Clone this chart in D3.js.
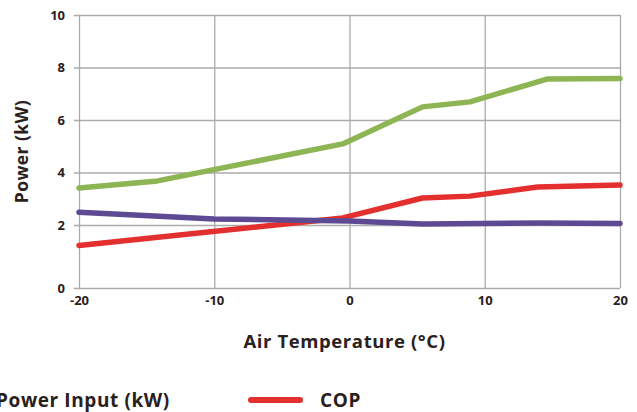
<!DOCTYPE html>
<html lang="en">
<head>
  <meta charset="UTF-8">
  <title>Power / COP vs Air Temperature</title>
  <script src="https://cdn.jsdelivr.net/npm/d3@7"></script>
  <style>
    body { margin: 0; background: #fff; }
    text { font-family: "Open Sans", Lato, sans-serif; font-weight: 700; fill: #2a201c; }
  </style>
</head>
<body>
<script>
  // data
  const xTicks = [-20, -10, 0, 10, 20];
  const yTicks = [0, 2, 4, 6, 8, 10];

  const heatTemps = [-20, -14.2, -0.5, 5.4, 8.9, 14.6, 20];
  const heatOutput = [3.41, 3.68, 5.09, 6.50, 6.69, 7.56, 7.58];

  const copTemps = [-20, -0.5, 5.4, 8.9, 13.9, 20];
  const cop = [1.22, 2.27, 3.03, 3.10, 3.45, 3.52];

  const powerTemps = [-20, -10, 0, 5.4, 14, 20];
  const powerInput = [2.49, 2.23, 2.15, 2.04, 2.08, 2.06];

  const legendLabels = ["Power Input (kW)", "COP"];

  const W = 637, H = 412;
  const plot = { left: 79, right: 620, top: 15, bottom: 288 };
  const yMin = -0.4; // the 0 line sits a little under the regular spacing

  const svg = d3.select("body").append("svg")
    .attr("width", W).attr("height", H);

  const x = d3.scaleLinear().domain([-20, 20]).range([plot.left, plot.right]);
  const y = d3.scaleLinear().domain([yMin, 10]).range([plot.bottom, plot.top]);

  // vertical grid + x labels
  const gx = svg.append("g")
    .attr("transform", "translate(0," + plot.bottom + ")")
    .call(d3.axisBottom(x).tickValues(xTicks)
      .tickSize(-(plot.bottom - plot.top)).tickSizeOuter(0).tickPadding(8)
      .tickFormat(d => d));
  gx.select(".domain").remove();
  gx.selectAll("line").attr("stroke", "#ababab").attr("stroke-width", 1.3);
  gx.selectAll("text").style("font-size", "13px");

  // horizontal grid + y labels
  const gy = svg.append("g")
    .attr("transform", "translate(" + (plot.left - 5) + ",0)")
    .call(d3.axisLeft(y).tickValues(yTicks.map(t => t === 0 ? yMin : t))
      .tickSize(-(plot.right - plot.left + 5)).tickSizeOuter(0).tickPadding(9)
      .tickFormat(d => d === yMin ? "0" : d));
  gy.select(".domain").remove();
  gy.selectAll("line").attr("stroke", "#ababab").attr("stroke-width", 1.3);
  gy.selectAll("text").style("font-size", "13px");

  // series
  const line = d3.line().x(d => x(d[0])).y(d => y(d[1]));
  const series = [
    { t: heatTemps, v: heatOutput, color: "#8db553" },
    { t: copTemps, v: cop, color: "#e3302f" },
    { t: powerTemps, v: powerInput, color: "#5e4a93" }
  ];
  svg.append("g").selectAll("path")
    .data(series)
    .enter().append("path")
    .attr("d", s => line(s.t.map((t, i) => [t, s.v[i]])))
    .attr("fill", "none")
    .attr("stroke", s => s.color)
    .attr("stroke-width", 5.5)
    .attr("stroke-linecap", "round")
    .attr("stroke-linejoin", "round");

  // axis titles
  svg.append("text")
    .attr("x", (plot.left + plot.right) / 2 - 5).attr("y", 348)
    .attr("text-anchor", "middle")
    .style("font-size", "18.5px")
    .style("letter-spacing", "0.6px")
    .text("Air Temperature (°C)");

  svg.append("text")
    .attr("transform", "translate(28," + ((plot.top + plot.bottom) / 2) + ") rotate(-90)")
    .attr("text-anchor", "middle")
    .style("font-size", "17.5px")
    .style("letter-spacing", "0.4px")
    .text("Power (kW)");

  // legend (cut off at the left edge like the original)
  const legendColors = ["#5e4a93", "#e3302f"];
  const lg = svg.append("g").selectAll("g")
    .data(legendLabels)
    .enter().append("g")
    .attr("transform", (d, i) => "translate(" + (i === 0 ? -73 : 251) + ",400)");
  lg.append("line")
    .attr("x1", 0).attr("x2", 49)
    .attr("stroke", (d, i) => legendColors[i])
    .attr("stroke-width", 6)
    .attr("stroke-linecap", "round");
  lg.append("text")
    .attr("x", 69).attr("y", 7)
    .style("font-size", "19px")
    .style("letter-spacing", "0.6px")
    .text(d => d);
</script>
</body>
</html>
